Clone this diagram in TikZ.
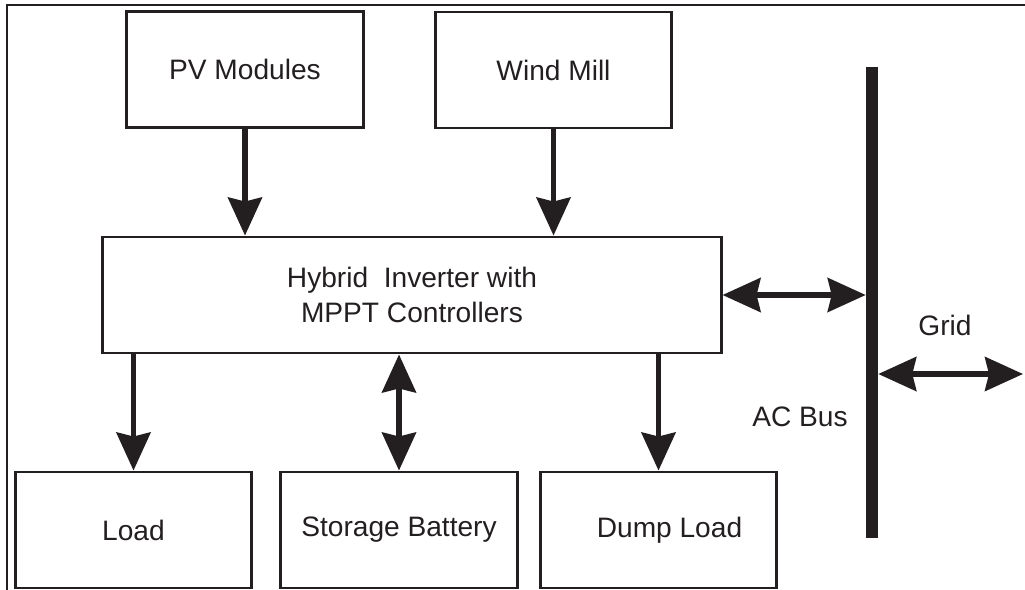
\documentclass[tikz,border=0pt]{standalone}
\usepackage{fontspec}
\setmainfont{Liberation Sans}
\usetikzlibrary{arrows.meta, positioning}
\usepackage{xcolor}
\definecolor{ink}{HTML}{231F20}

\begin{document}
\begin{tikzpicture}[x=0.025cm, y=-0.025cm,
    block/.style={draw=ink, line width=2.1pt, minimum width=5.9cm, minimum height=2.9cm,
      inner sep=0pt, font=\fontsize{20}{25}\selectfont, text=ink, align=center},
    flow/.style={draw=ink, line width=3.6pt,
      -{Stealth[length=0.95cm, width=0.85cm, inset=0.1cm]}},
    biflow/.style={draw=ink, line width=3.6pt,
      {Stealth[length=0.95cm, width=0.85cm, inset=0.1cm]}-{Stealth[length=0.95cm, width=0.85cm, inset=0.1cm]}},
    tag/.style={font=\fontsize{20}{25}\selectfont, text=ink, inner sep=0pt}]
  \useasboundingbox (0,0) rectangle (1025,590);

  % frame (top and left)
  \draw[ink, line width=1.3pt] (1025,5) -- (7,5) -- (7,590);

  % sources
  \node[block] (pv) at (245,69.5) {PV Modules};
  \node[block] (wind) at (553.5,70) {Wind Mill};

  % inverter
  \node[block, minimum width=15.45cm] (inv) at (412,295)
    {Hybrid\ \ Inverter with\\MPPT Controllers};

  % loads
  \node[block] (load) at (133.5,530) {Load};
  \node[block] (batt) at (399,530) {Storage Battery};
  \node[block] (dump) at (658.5,530) {\hspace*{0.55cm}Dump Load};

  % ac bus bar
  \node[fill=ink, inner sep=0pt, minimum width=0.3cm, minimum height=11.78cm] (bus) at (872,302.5) {};
  \node[tag] (buslabel) at (800,417) {AC Bus};
  \node[tag] (gridlabel) at (945,325) {Grid};
  \coordinate (gridend) at (1023,374);

  % arrows
  \draw[flow] (pv.south) -- (pv.south |- inv.north);
  \draw[flow] (wind.south) -- (wind.south |- inv.north);
  \draw[flow] (inv.south -| load.north) -- (load.north);
  \draw[biflow] (inv.south -| batt.north) -- (batt.north);
  \draw[flow] (inv.south -| dump.north) -- (dump.north);
  \draw[biflow] (inv.east) -- (inv.east -| bus.west);
  \draw[biflow] (bus.east |- gridend) -- (gridend);
\end{tikzpicture}
\end{document}
